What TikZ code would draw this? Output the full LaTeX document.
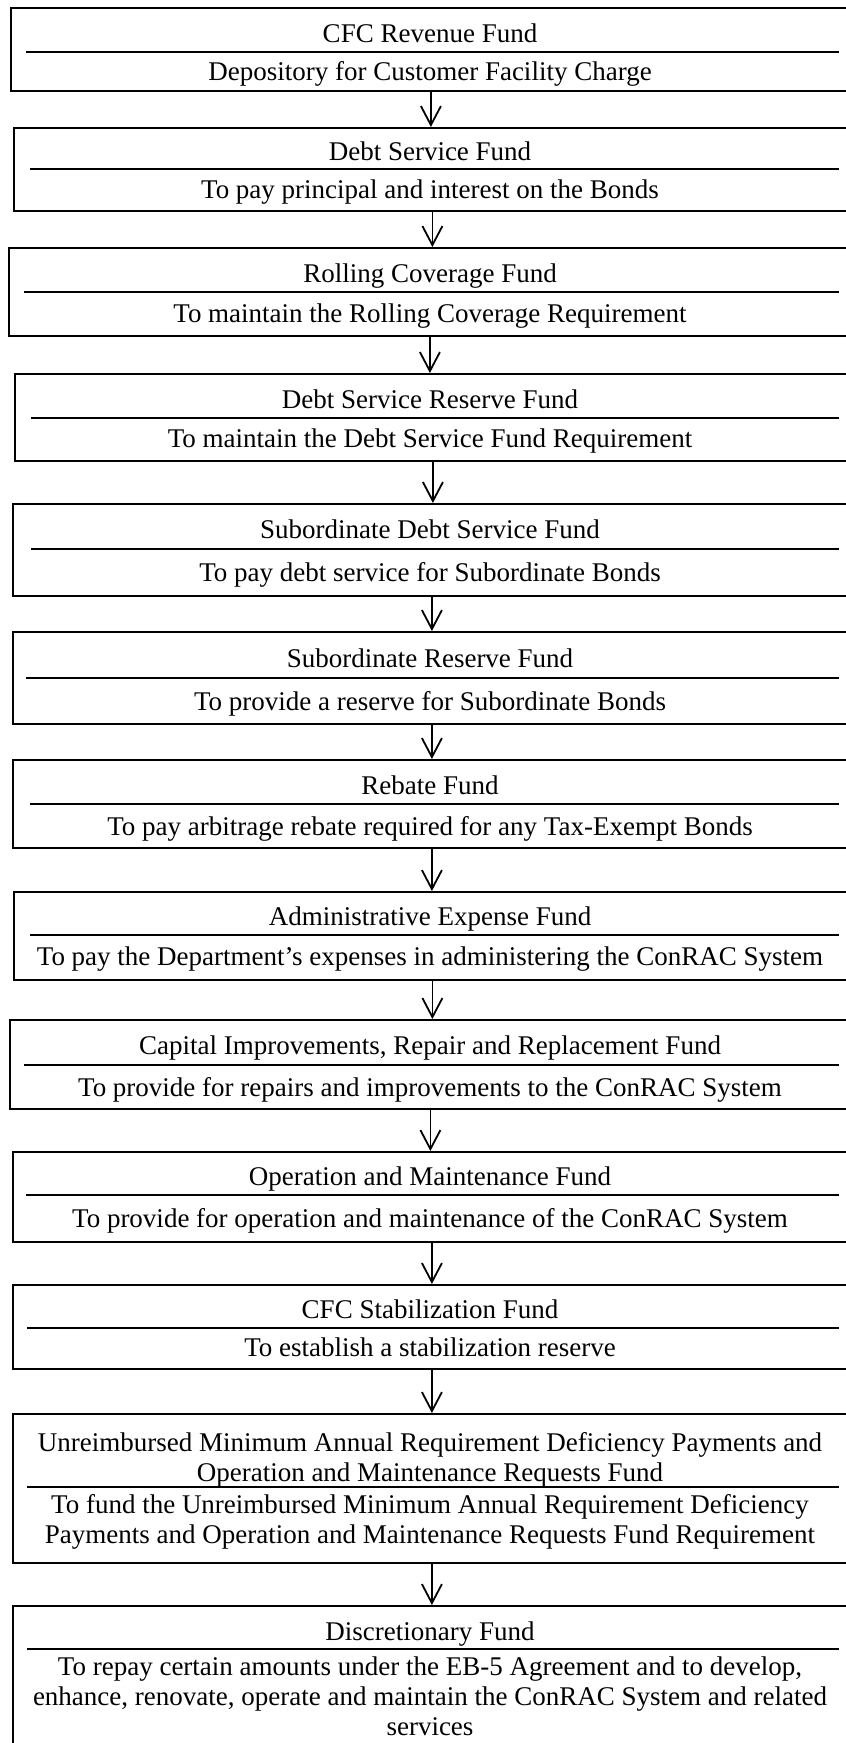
\documentclass[tikz,border=0pt]{standalone}
\usepackage{fontspec}
\setmainfont{Liberation Serif}
\usetikzlibrary{arrows.meta}
\tikzset{
  fundbox/.style={draw, line width=1.8pt, rectangle, inner sep=0pt, anchor=north west},
  sepline/.style={line width=2pt},
  flow/.style={line width=1.8pt, -{Straight Barb[length=19pt,width=20pt,line width=1.8pt]}},
  lbl/.style={font=\fontsize{27}{30}\selectfont, align=center, inner sep=0pt, anchor=north}
}
% #1 name, #2 left, #3 top, #4 bottom, #5 separator y, #6 separator left
\newcommand\fundboxdraw[6]{%
  \node[fundbox, minimum width={(850-#2)*1pt}, minimum height={(#4-#3)*1pt}] (#1) at (#2,#3) {};
  \draw[sepline] (#6,#5) -- (839,#5);
}
\begin{document}
\begin{tikzpicture}[x=1pt,y=-1pt]
\useasboundingbox (0,0) rectangle (846,1743);
\fill[white] (0,0) rectangle (846,1743);

\fundboxdraw{b1}{10}{7}{90}{52}{26}
\fundboxdraw{b2}{13}{127}{210}{169}{30}
\fundboxdraw{b3}{8}{247}{335}{292}{24}
\fundboxdraw{b4}{14}{373}{460}{418}{31}
\fundboxdraw{b5}{12}{503}{595}{549}{31}
\fundboxdraw{b6}{12}{631}{723}{678}{26}
\fundboxdraw{b7}{12}{759}{847}{804}{30}
\fundboxdraw{b8}{13}{891}{979}{935}{30}
\fundboxdraw{b9}{9}{1019}{1108}{1065}{24}
\fundboxdraw{b10}{12}{1151}{1241}{1195}{26}
\fundboxdraw{b11}{12}{1284}{1368}{1328}{27}
\fundboxdraw{b12}{12}{1413}{1562}{1487}{27}
\fundboxdraw{b13}{12}{1605}{1760}{1649}{27}

\node[lbl] (t1) at (430,24) {CFC Revenue Fund};
\node[lbl] (d1) at (430,61) {Depository for Customer Facility Charge};
\node[lbl] (t2) at (430,142) {Debt Service Fund};
\node[lbl] (d2) at (430,180) {To pay principal and interest on the Bonds};
\node[lbl] (t3) at (430,264) {Rolling Coverage Fund};
\node[lbl] (d3) at (430,304) {To maintain the Rolling Coverage Requirement};
\node[lbl] (t4) at (430,390) {Debt Service Reserve Fund};
\node[lbl] (d4) at (430,429) {To maintain the Debt Service Fund Requirement};
\node[lbl] (t5) at (430,520) {Subordinate Debt Service Fund};
\node[lbl] (d5) at (430,562) {To pay debt service for Subordinate Bonds};
\node[lbl] (t6) at (430,649) {Subordinate Reserve Fund};
\node[lbl] (d6) at (430,691) {To provide a reserve for Subordinate Bonds};
\node[lbl] (t7) at (430,776) {Rebate Fund};
\node[lbl] (d7) at (430,816) {To pay arbitrage rebate required for any Tax-Exempt Bonds};
\node[lbl] (t8) at (430,907) {Administrative Expense Fund};
\node[lbl] (d8) at (430,947) {To pay the Department’s expenses in administering the ConRAC System};
\node[lbl] (t9) at (430,1036) {Capital Improvements, Repair and Replacement Fund};
\node[lbl] (d9) at (430,1077) {To provide for repairs and improvements to the ConRAC System};
\node[lbl] (t10) at (430,1167) {Operation and Maintenance Fund};
\node[lbl] (d10) at (430,1208) {To provide for operation and maintenance of the ConRAC System};
\node[lbl] (t11) at (430,1300) {CFC Stabilization Fund};
\node[lbl] (d11) at (430,1338) {To establish a stabilization reserve};
\node[lbl] (t12) at (430,1432) {Unreimbursed Minimum Annual Requirement Deficiency Payments and\\Operation and Maintenance Requests Fund};
\node[lbl] (d12) at (430,1494) {To fund the Unreimbursed Minimum Annual Requirement Deficiency\\Payments and Operation and Maintenance Requests Fund Requirement};
\node[lbl] (t13) at (430,1622) {Discretionary Fund};
\node[lbl] (d13) at (430,1657) {To repay certain amounts under the EB-5 Agreement and to develop,\\enhance, renovate, operate and maintain the ConRAC System and related\\services};

\foreach \a/\b in {b1/b2,b2/b3,b3/b4,b4/b5,b5/b6,b6/b7,b7/b8,b8/b9,b9/b10,b10/b11,b11/b12,b12/b13}
  \draw[flow] (\a.south) -- (\a.south |- \b.north);
\end{tikzpicture}
\end{document}
